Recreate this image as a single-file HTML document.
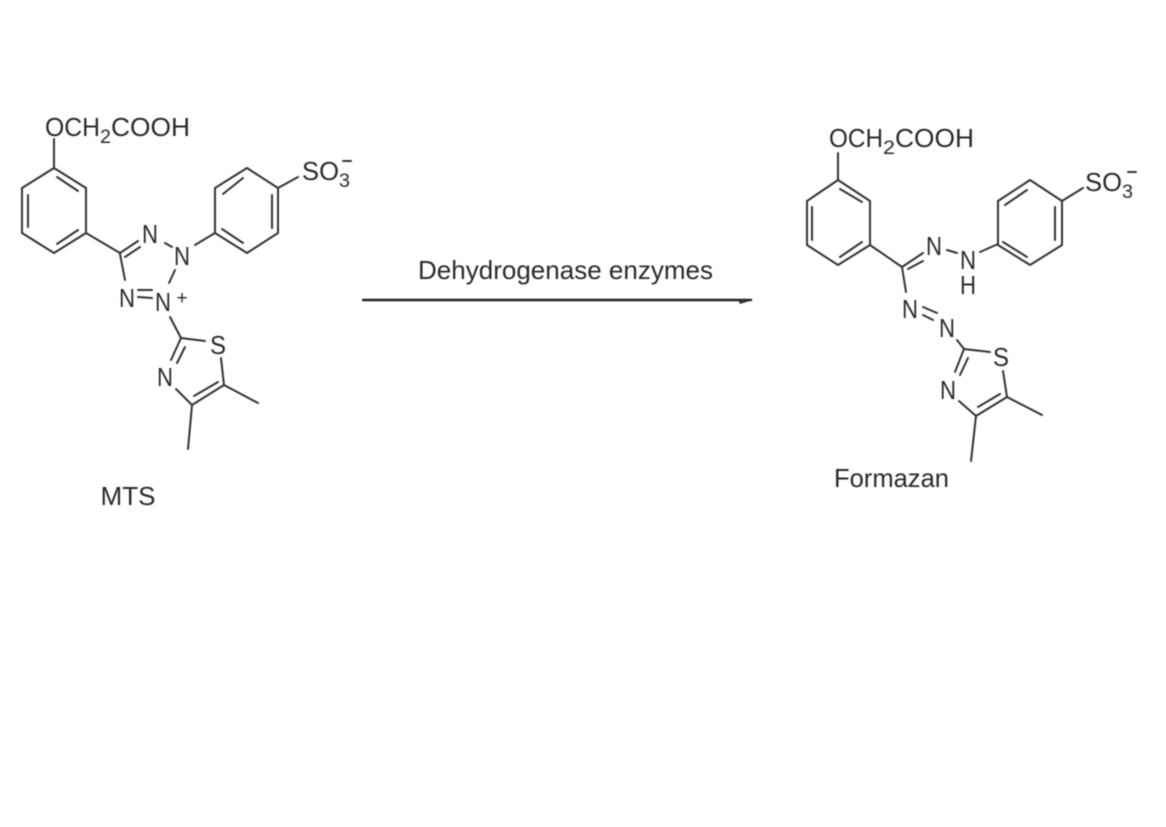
<!DOCTYPE html>
<html>
<head>
<meta charset="utf-8">
<style>
html,body{margin:0;padding:0;background:#fff;}
svg{display:block;filter:blur(0.5px);}
text{font-family:"Liberation Sans",sans-serif;fill:#2a2a2a;font-size:26px;}
.c{text-anchor:middle;}
.s{font-size:19px;}
line,polygon.r{stroke:#333;stroke-width:2;fill:none;stroke-linecap:round;stroke-linejoin:round;}
</style>
</head>
<body>
<svg width="1166" height="827" viewBox="0 0 1166 827" xmlns="http://www.w3.org/2000/svg">
<rect width="1166" height="827" fill="#fff"/>

<!-- MTS -->
<text x="45" y="136" textLength="55" lengthAdjust="spacingAndGlyphs">OCH</text>
<text class="s" x="100" y="143" textLength="11" lengthAdjust="spacingAndGlyphs">2</text>
<text x="111" y="136" textLength="79" lengthAdjust="spacingAndGlyphs">COOH</text>
<line x1="54" y1="139" x2="54" y2="168"/>
<polygon class="r" points="54,168 86,188 86,233 54,253 22,233 22,188"/>
<line x1="57" y1="177" x2="78" y2="191"/>
<line x1="28" y1="195" x2="28" y2="227"/>
<line x1="57" y1="244" x2="78" y2="230"/>
<line x1="86" y1="233" x2="120" y2="253"/>
<line x1="120" y1="253" x2="138" y2="241"/>
<line x1="125" y1="257" x2="140" y2="247"/>
<text class="c" x="150" y="243" textLength="16" lengthAdjust="spacingAndGlyphs">N</text>
<line x1="165" y1="243" x2="172" y2="247"/>
<text class="c" x="182" y="265" textLength="16" lengthAdjust="spacingAndGlyphs">N</text>
<line x1="195" y1="245" x2="215" y2="233"/>
<line x1="120" y1="254" x2="125" y2="280"/>
<text class="c" x="127" y="307" textLength="16" lengthAdjust="spacingAndGlyphs">N</text>
<line x1="138" y1="290" x2="152" y2="290"/>
<line x1="138" y1="297" x2="152" y2="298"/>
<text class="c" x="163" y="311" textLength="16" lengthAdjust="spacingAndGlyphs">N</text>
<text class="c s" x="182" y="304">+</text>
<line x1="175" y1="270" x2="169" y2="283"/>
<polygon class="r" points="247,168 278,188 278,233 247,253 215,233 215,188"/>
<line x1="223" y1="194" x2="243" y2="178"/>
<line x1="272" y1="195" x2="272" y2="228"/>
<line x1="222" y1="229" x2="243" y2="243"/>
<line x1="278" y1="188" x2="298" y2="177"/>
<text x="302" y="180" textLength="37" lengthAdjust="spacingAndGlyphs">SO</text>
<text class="s" x="339" y="187" textLength="11" lengthAdjust="spacingAndGlyphs">3</text>
<line x1="343" y1="161" x2="351" y2="161"/>
<line x1="170" y1="317" x2="181" y2="338"/>
<line x1="181" y1="338" x2="205" y2="341"/>
<text class="c" x="218" y="354" textLength="16" lengthAdjust="spacingAndGlyphs">S</text>
<line x1="221" y1="358" x2="224" y2="385"/>
<line x1="224" y1="385" x2="258" y2="403"/>
<line x1="224" y1="385" x2="192" y2="405"/>
<line x1="218" y1="382" x2="194" y2="396"/>
<line x1="192" y1="405" x2="188" y2="449"/>
<line x1="192" y1="405" x2="176" y2="389"/>
<text class="c" x="165" y="386" textLength="16" lengthAdjust="spacingAndGlyphs">N</text>
<line x1="181" y1="338" x2="171" y2="360"/>
<line x1="185" y1="347" x2="177" y2="363"/>
<text class="c" x="128" y="505" textLength="55" lengthAdjust="spacingAndGlyphs">MTS</text>

<!-- Arrow -->
<text x="418" y="279" textLength="295" lengthAdjust="spacingAndGlyphs">Dehydrogenase enzymes</text>
<line x1="363" y1="300" x2="751" y2="300" style="stroke:#222;stroke-width:2.4"/>
<polygon points="738,300 753,300 740,304" fill="#333"/>

<!-- Formazan -->
<text x="829" y="147" textLength="54" lengthAdjust="spacingAndGlyphs">OCH</text>
<text class="s" x="883" y="154" textLength="12" lengthAdjust="spacingAndGlyphs">2</text>
<text x="895" y="147" textLength="79" lengthAdjust="spacingAndGlyphs">COOH</text>
<line x1="838" y1="153" x2="838" y2="180"/>
<polygon class="r" points="838,180 870,201 870,245 838,265 807,245 807,201"/>
<line x1="840" y1="189" x2="862" y2="202"/>
<line x1="812" y1="207" x2="812" y2="240"/>
<line x1="840" y1="257" x2="862" y2="242"/>
<line x1="870" y1="245" x2="902" y2="267"/>
<line x1="902" y1="267" x2="923" y2="253"/>
<line x1="908" y1="269" x2="923" y2="261"/>
<text class="c" x="934" y="255" textLength="16" lengthAdjust="spacingAndGlyphs">N</text>
<line x1="947" y1="250" x2="957" y2="253"/>
<text class="c" x="968" y="269" textLength="16" lengthAdjust="spacingAndGlyphs">N</text>
<text class="c" x="968" y="294" textLength="16" lengthAdjust="spacingAndGlyphs">H</text>
<line x1="980" y1="252" x2="998" y2="244"/>
<polygon class="r" points="1030,180 1062,201 1062,245 1030,265 998,245 998,201"/>
<line x1="1005" y1="205" x2="1027" y2="190"/>
<line x1="1055" y1="207" x2="1055" y2="240"/>
<line x1="1003" y1="242" x2="1027" y2="257"/>
<line x1="1062" y1="201" x2="1083" y2="188"/>
<text x="1085" y="191" textLength="37" lengthAdjust="spacingAndGlyphs">SO</text>
<text class="s" x="1122" y="198" textLength="11" lengthAdjust="spacingAndGlyphs">3</text>
<line x1="1128" y1="172" x2="1136" y2="172"/>
<line x1="902" y1="267" x2="906" y2="292"/>
<text class="c" x="910" y="318" textLength="16" lengthAdjust="spacingAndGlyphs">N</text>
<line x1="923" y1="307" x2="937" y2="313"/>
<line x1="923" y1="315" x2="933" y2="320"/>
<text class="c" x="947" y="337" textLength="16" lengthAdjust="spacingAndGlyphs">N</text>
<line x1="957" y1="340" x2="964" y2="349"/>
<line x1="964" y1="349" x2="990" y2="352"/>
<text class="c" x="1001" y="366" textLength="16" lengthAdjust="spacingAndGlyphs">S</text>
<line x1="1003" y1="371" x2="1007" y2="397"/>
<line x1="1007" y1="397" x2="1042" y2="415"/>
<line x1="1007" y1="397" x2="976" y2="416"/>
<line x1="1000" y1="394" x2="978" y2="407"/>
<line x1="976" y1="416" x2="971" y2="461"/>
<line x1="976" y1="416" x2="959" y2="401"/>
<text class="c" x="948" y="399" textLength="16" lengthAdjust="spacingAndGlyphs">N</text>
<line x1="964" y1="349" x2="955" y2="372"/>
<line x1="968" y1="358" x2="960" y2="375"/>
<text x="834" y="487" textLength="115" lengthAdjust="spacingAndGlyphs">Formazan</text>
</svg>
</body>
</html>
